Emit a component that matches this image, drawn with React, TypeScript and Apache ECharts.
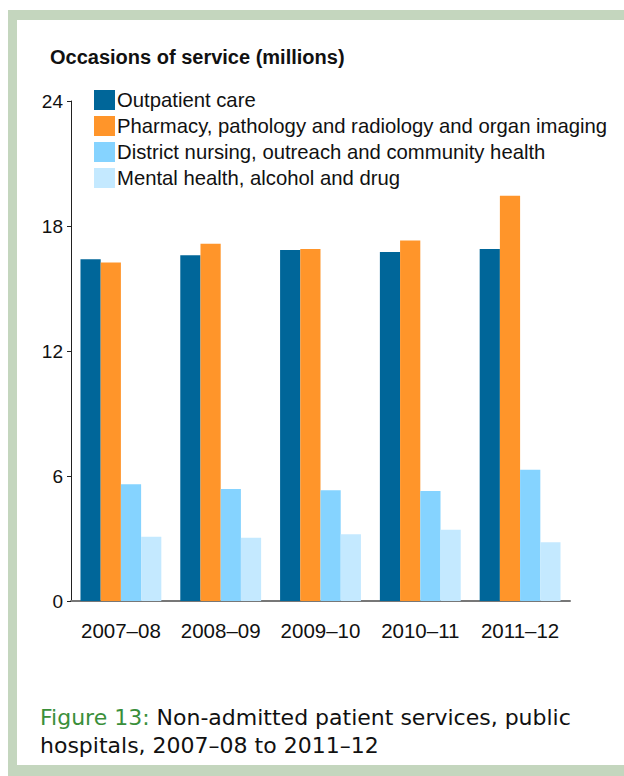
import React, { useEffect, useRef } from "react";
import * as echarts from "echarts";

const categories = ["2007–08", "2008–09", "2009–10", "2010–11", "2011–12"];
const seriesNames = [
  "Outpatient care",
  "Pharmacy, pathology and radiology and organ imaging",
  "District nursing, outreach and community health",
  "Mental health, alcohol and drug",
];
const outpatient = [16.4, 16.6, 16.85, 16.75, 16.9];
const pharmacy = [16.25, 17.15, 16.9, 17.3, 19.45];
const district = [5.6, 5.38, 5.32, 5.28, 6.3];
const mental = [3.08, 3.04, 3.2, 3.42, 2.82];
const yTicks = { min: 0, max: 24, interval: 6 };
const colors = ["#006699", "#FF952A", "#85D3FF", "#C4E9FF"];

export default function App() {
  const ref = useRef<HTMLDivElement>(null);
  useEffect(() => {
    if (!ref.current) return;
    const chart = echarts.init(ref.current, null, { renderer: "svg" });
    const values = [outpatient, pharmacy, district, mental];
    chart.setOption({
      animation: false,
      backgroundColor: "#ffffff",
      textStyle: { fontFamily: "Liberation Sans" },
      grid: { left: 71, right: 54, top: 101, bottom: 175, containLabel: false },
      legend: {
        left: 89,
        top: 85,
        orient: "vertical",
        icon: "rect",
        itemWidth: 21,
        itemHeight: 20,
        itemGap: 6,
        selectedMode: false,
        textStyle: { fontSize: 20.3, color: "#111", fontFamily: "Liberation Sans", padding: [0, 0, 0, -3] },
        data: seriesNames,
      },
      xAxis: {
        type: "category",
        data: categories,
        axisLine: { lineStyle: { color: "#777", width: 2 } },
        axisTick: { show: false },
        axisLabel: { fontSize: 20.5, color: "#111", margin: 19, interval: 0 },
      },
      yAxis: {
        type: "value",
        min: yTicks.min,
        max: yTicks.max,
        interval: yTicks.interval,
        axisLine: { show: true, lineStyle: { color: "#222", width: 1 } },
        axisTick: { show: true, length: 4, lineStyle: { color: "#222" } },
        splitLine: { show: false },
        axisLabel: { fontSize: 19, color: "#111", margin: 8 },
      },
      series: seriesNames.map((name, i) => ({
        name,
        type: "bar",
        data: values[i],
        barGap: "0%",
        barCategoryGap: "19%",
        itemStyle: { color: colors[i] },
      })),
      graphic: [
        { type: "rect", shape: { x: 8, y: 10, width: 616, height: 10 }, style: { fill: "#C4D6BE" } },
        { type: "rect", shape: { x: 8, y: 10, width: 9, height: 766 }, style: { fill: "#C4D6BE" } },
        { type: "rect", shape: { x: 8, y: 765, width: 616, height: 11 }, style: { fill: "#C4D6BE" } },
        {
          type: "text",
          left: 50,
          top: 47,
          style: {
            text: "Occasions of service (millions)",
            font: "bold 20px 'Liberation Sans'",
            fill: "#111",
          },
        },
        {
          type: "text",
          left: 40,
          top: 704,
          style: {
            text: "{g|Figure 13: }{b|Non-admitted patient services, public}",
            lineHeight: 27,
            rich: {
              g: { fill: "#3A8F3A", fontSize: 22, fontFamily: "DejaVu Sans", lineHeight: 27 },
              b: { fill: "#111", fontSize: 22, fontFamily: "DejaVu Sans", lineHeight: 27 },
            },
          },
        },
        {
          type: "text",
          left: 40,
          top: 732,
          style: {
            text: "hospitals, 2007–08 to 2011–12",
            fill: "#111",
            fontSize: 22,
            fontFamily: "DejaVu Sans",
            lineHeight: 27,
          },
        },
      ],
    });
    return () => chart.dispose();
  }, []);
  return (
    <div
      ref={ref}
      style={{ position: "fixed", left: 0, top: 0, width: 624, height: 776 }}
    />
  );
}
